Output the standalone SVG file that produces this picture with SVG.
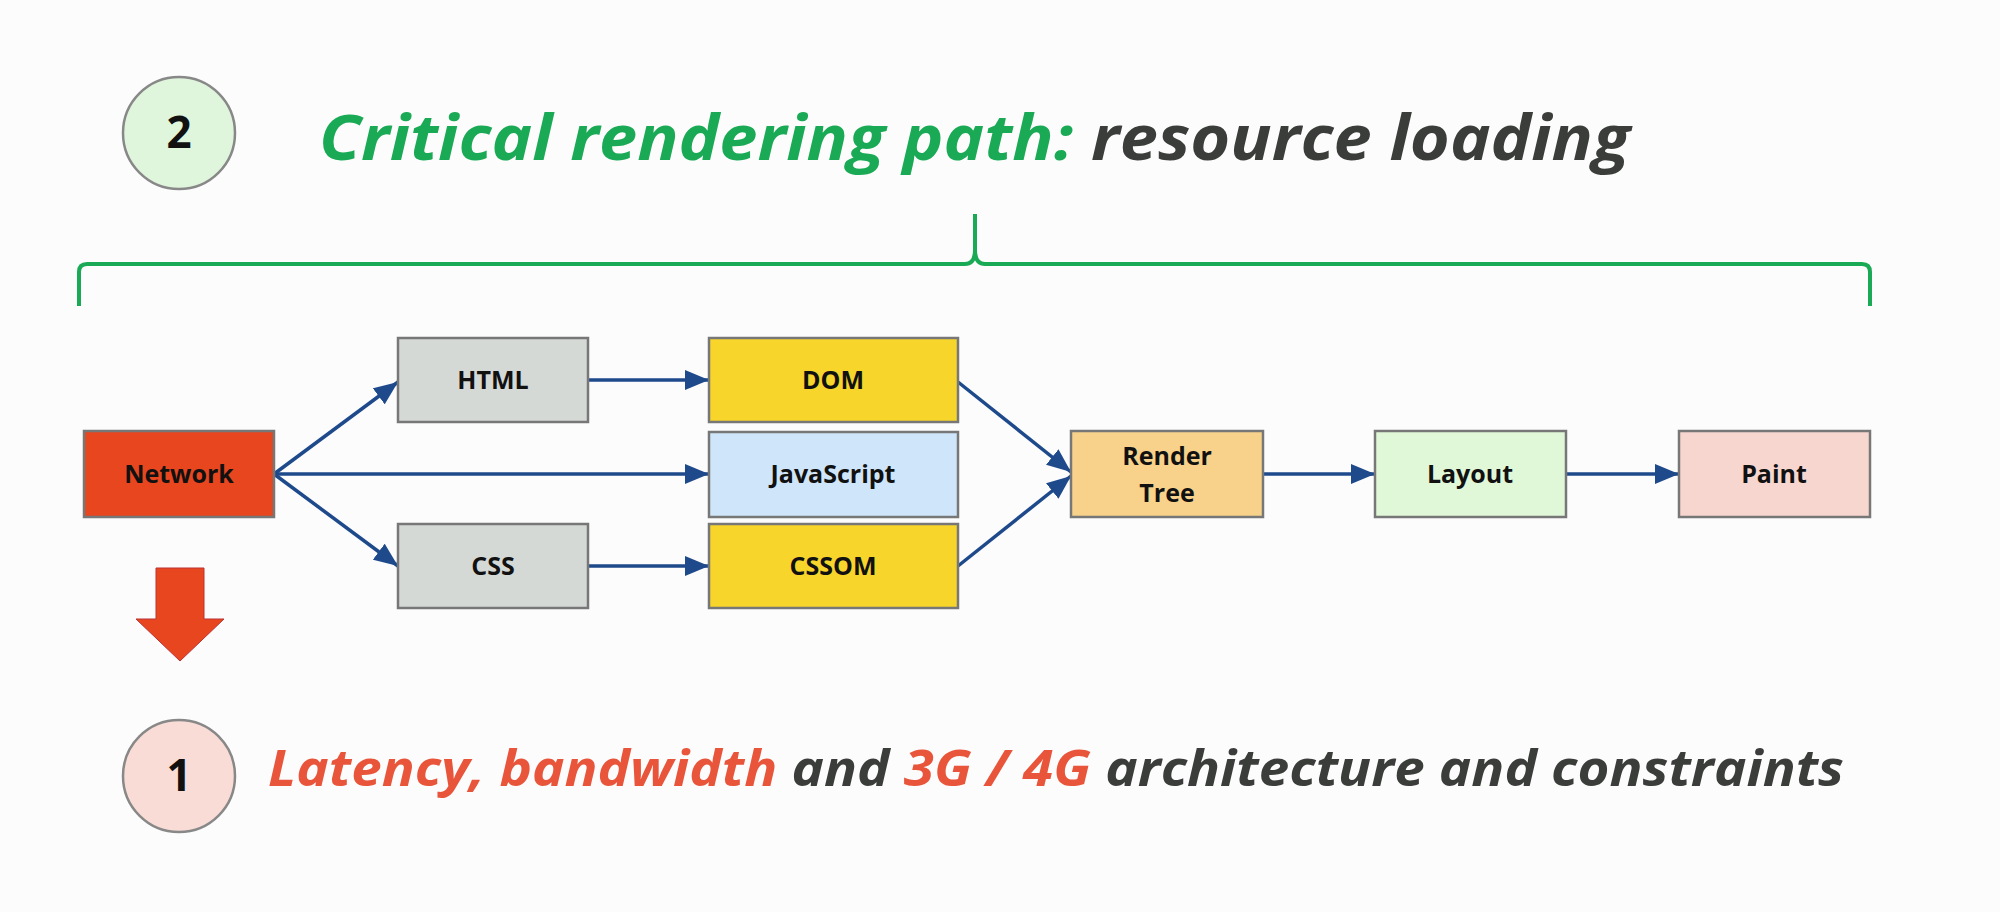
<svg xmlns="http://www.w3.org/2000/svg" width="2000" height="912" viewBox="0 0 2000 912">
<defs>
<style>
.box{stroke:#777;stroke-width:2.5}
.lbl{font-family:"Open Sans","DejaVu Sans",sans-serif;font-weight:700;font-size:25px;fill:#111;text-anchor:middle}
.con{stroke:#1e4a8c;stroke-width:3.5;fill:none;marker-end:url(#ah)}
.big{font-family:"Open Sans","DejaVu Sans",sans-serif;font-weight:700;font-style:italic}
</style>
<marker id="ah" viewBox="0 0 10 10" refX="10" refY="5" markerWidth="24" markerHeight="20" markerUnits="userSpaceOnUse" orient="auto" preserveAspectRatio="none">
<path d="M0,0 L10,5 L0,10 z" fill="#1e4a8c"/>
</marker>
</defs>
<rect width="2000" height="912" fill="#fcfcfc"/>
<g id="badge2"><circle cx="179" cy="133" r="56" fill="#dff5dc" stroke="#888" stroke-width="2.5"/><text x="179" y="148" class="lbl" style="font-size:44px">2</text></g>
<text x="319" y="160" class="big" font-size="62" textLength="1311" lengthAdjust="spacingAndGlyphs"><tspan fill="#1aaa55">Critical rendering path:</tspan><tspan fill="#3a3d3a"> resource loading</tspan></text>
<path id="bracket" d="M79,306 V272 Q79,264 87,264 H965 Q975,264 975,250 V214 M975,214 V250 Q975,264 985,264 H1862 Q1870,264 1870,272 V306" fill="none" stroke="#1aaa55" stroke-width="4"/>
<g id="connectors">
<path class="con" d="M274,474 L398,382"/>
<path class="con" d="M274,474 H709"/>
<path class="con" d="M274,474 L398,566"/>
<path class="con" d="M588,380 H709"/>
<path class="con" d="M588,566 H709"/>
<path class="con" d="M958,382 L1071,472"/>
<path class="con" d="M958,566 L1071,476"/>
<path class="con" d="M1263,474 H1375"/>
<path class="con" d="M1566,474 H1679"/>
</g>
<g id="network"><rect class="box" x="84" y="431" width="190" height="86" fill="#e8461f"/><text class="lbl" x="179" y="483">Network</text></g>
<g id="html"><rect class="box" x="398" y="338" width="190" height="84" fill="#d5d9d6"/><text class="lbl" x="493" y="389">HTML</text></g>
<g id="css"><rect class="box" x="398" y="524" width="190" height="84" fill="#d5d9d6"/><text class="lbl" x="493" y="575">CSS</text></g>
<g id="dom"><rect class="box" x="709" y="338" width="249" height="84" fill="#f7d52a"/><text class="lbl" x="833" y="389">DOM</text></g>
<g id="js"><rect class="box" x="709" y="432" width="249" height="85" fill="#cfe6fa"/><text class="lbl" x="833" y="483">JavaScript</text></g>
<g id="cssom"><rect class="box" x="709" y="524" width="249" height="84" fill="#f7d52a"/><text class="lbl" x="833" y="575">CSSOM</text></g>
<g id="render"><rect class="box" x="1071" y="431" width="192" height="86" fill="#f8d28a"/><text class="lbl" x="1167" y="465">Render</text><text class="lbl" x="1167" y="502">Tree</text></g>
<g id="layout"><rect class="box" x="1375" y="431" width="191" height="86" fill="#e0f8d8"/><text class="lbl" x="1470" y="483">Layout</text></g>
<g id="paint"><rect class="box" x="1679" y="431" width="191" height="86" fill="#f8d6d0"/><text class="lbl" x="1774" y="483">Paint</text></g>
<polygon id="downarrow" points="156,568 204,568 204,619 224,619 180,661 136,619 156,619" fill="#e8461f" stroke="#b33" stroke-width="1"/>
<g id="badge1"><circle cx="179" cy="776" r="56" fill="#f9dcd6" stroke="#888" stroke-width="2.5"/><text x="179" y="791" class="lbl" style="font-size:44px">1</text></g>
<text x="268" y="786" class="big" font-size="50" textLength="1576" lengthAdjust="spacingAndGlyphs"><tspan fill="#e8553a">Latency, bandwidth</tspan><tspan fill="#3a3d3a"> and </tspan><tspan fill="#e8553a">3G / 4G</tspan><tspan fill="#3a3d3a"> architecture and constraints</tspan></text>
</svg>
